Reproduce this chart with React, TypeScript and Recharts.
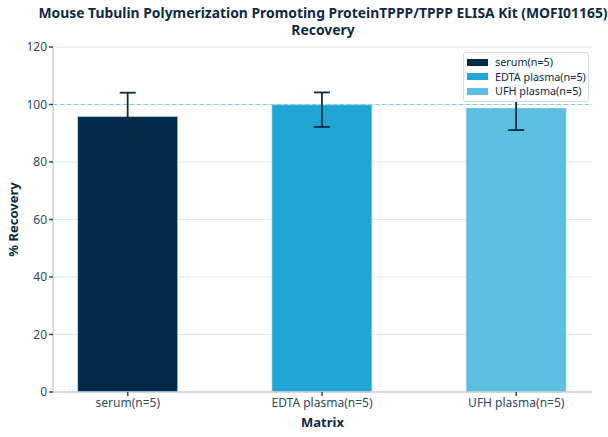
import { Bar, BarChart, CartesianGrid, Cell, ErrorBar, ReferenceLine, XAxis, YAxis } from 'recharts';

const categories = ['serum(n=5)', 'EDTA plasma(n=5)', 'UFH plasma(n=5)'];
const recovery = [95.8, 99.9, 98.8];
const errLow = [8.3, 7.7, 7.7];
const errHigh = [8.3, 4.3, 7.7];
const yTicks = [0, 20, 40, 60, 80, 100, 120];

const BAR_COLORS = ['#022b4a', '#1fa6d4', '#5bbfe0'];
const INK = '#0d2b45';
const TICK = '#2f4a62';
const FONT = '"Noto Sans", "Open Sans", sans-serif';

const data = categories.map((name, i) => ({
  idx: i,
  name,
  value: recovery[i],
  err: [errLow[i], errHigh[i]],
}));

function LegendBox() {
  return (
    <div
      style={{
        position: 'absolute',
        left: 463,
        top: 52,
        width: 121,
        border: '1px solid #d6dbe0',
        borderRadius: 3,
        background: 'rgba(255,255,255,0.92)',
        padding: '2px 0 2px 3px',
        fontFamily: FONT,
        fontSize: 10.8,
        color: INK,
        lineHeight: '14.5px',
      }}
    >
      {categories.map((c, i) => (
        <div key={c} style={{ display: 'flex', alignItems: 'center', whiteSpace: 'nowrap' }}>
          <span style={{ display: 'inline-block', width: 21, height: 7, background: BAR_COLORS[i], marginRight: 7 }} />
          <span>{c}</span>
        </div>
      ))}
    </div>
  );
}

export default function App() {
  return (
    <div style={{ position: 'absolute', left: 0, top: 0, width: 608, height: 437, background: '#fff', fontFamily: FONT }}>
      <BarChart width={608} height={437} data={data} margin={{ top: 47, right: 16, bottom: 0, left: 0 }}>
        <CartesianGrid vertical={false} stroke="#e3e8ed" />
        <XAxis
          dataKey="idx"
          type="number"
          domain={[-0.385, 2.39]}
          ticks={[0, 1, 2]}
          allowDataOverflow
          tickFormatter={(v: number) => categories[v]}
          height={45}
          stroke="#c9d1d9"
          strokeWidth={1.5}
          tickLine={{ stroke: TICK }}
          tick={{ fill: TICK, fontSize: 12, fontFamily: FONT }}
          tickSize={4}
          label={{
            content: ({ viewBox }: any) => (
              <text x={viewBox.x + viewBox.width / 2} y={427} textAnchor="middle" fontWeight={700} fontSize={13} fill={INK} fontFamily={FONT}>
                Matrix
              </text>
            ),
          }}
        />
        <YAxis
          domain={[0, 120]}
          ticks={yTicks}
          width={53}
          stroke="#c9d1d9"
          strokeWidth={1.5}
          tickLine={{ stroke: TICK }}
          tick={{ fill: TICK, fontSize: 12, fontFamily: FONT }}
          tickSize={4}
          label={{
            content: ({ viewBox }: any) => {
              const cy = viewBox.y + viewBox.height / 2;
              return (
                <text x={18} y={cy} transform={`rotate(-90 18 ${cy})`} textAnchor="middle" fontWeight={700} fontSize={13} fill={INK} fontFamily={FONT}>
                  % Recovery
                </text>
              );
            },
          }}
        />
        <ReferenceLine y={100} stroke="#7ccbe8" strokeDasharray="4 3" />
        <Bar dataKey="value" barSize={100} isAnimationActive={false} stroke="#d0dde6" strokeWidth={0.6}>
          {data.map((d, i) => (
            <Cell key={d.name} fill={BAR_COLORS[i]} />
          ))}
          <ErrorBar dataKey="err" width={8} stroke={INK} strokeWidth={1.8} />
        </Bar>
      </BarChart>
      <div
        style={{
          position: 'absolute',
          left: 23,
          width: 600,
          top: 4,
          textAlign: 'center',
          fontWeight: 700,
          fontSize: 13.9,
          lineHeight: '17px',
          color: INK,
          whiteSpace: 'nowrap',
        }}
      >
        Mouse Tubulin Polymerization Promoting ProteinTPPP/TPPP ELISA Kit (MOFI01165)
        <br />
        Recovery
      </div>
      <LegendBox />
    </div>
  );
}
